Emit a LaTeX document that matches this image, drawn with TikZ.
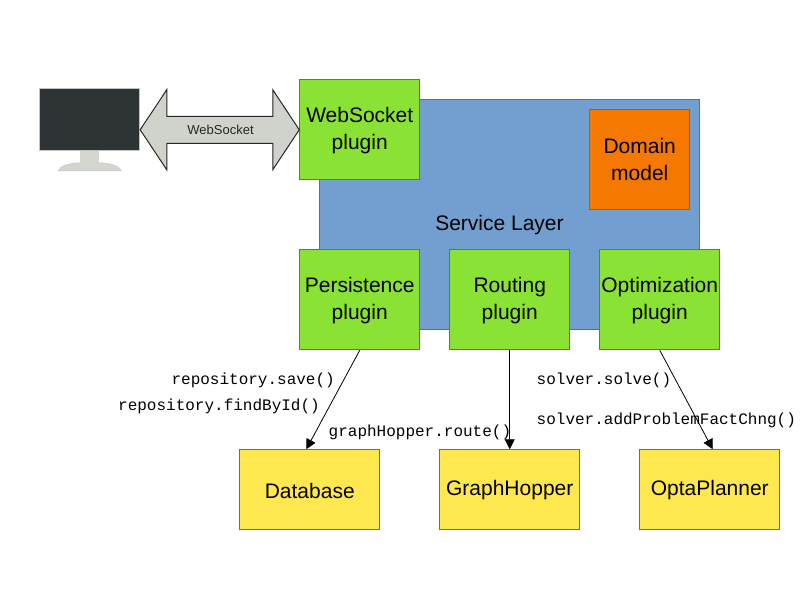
\documentclass[tikz,border=0pt]{standalone}
\usepackage{fontspec}
\setmainfont{Liberation Sans}
\setmonofont{Liberation Mono}
\usetikzlibrary{arrows.meta,calc}
\definecolor{boxline}{HTML}{6E6E64}
\definecolor{plugingreen}{HTML}{8AE234}
\definecolor{extyellow}{HTML}{FFE84F}
\definecolor{layerblue}{HTML}{729FCF}
\definecolor{domorange}{HTML}{F57900}
\definecolor{screendark}{HTML}{2E3436}
\definecolor{standgray}{HTML}{D3D7CF}
\newcommand\lowered[2]{\raisebox{-#1pt}[\height][\depth]{\begin{tabular}{@{}c@{}}#2\end{tabular}}}
\newcommand\loweredline[2]{\raisebox{-#1pt}[\height][\depth]{#2}}
\tikzset{
  x=1pt,y=-1pt,
  basebox/.style={draw=boxline,line width=1pt,inner sep=0pt,align=center,
    font=\fontsize{21}{27}\selectfont},
  plugin/.style={basebox,fill=plugingreen,minimum width=120pt,minimum height=100pt},
  extbox/.style={basebox,fill=extyellow,minimum width=140pt,minimum height=80pt},
  callarrow/.style={draw=black,line width=0.8pt,-{Triangle[length=10pt,width=10pt]}},
  calltext/.style={inner sep=0pt,font=\ttfamily\fontsize{16}{18}\selectfont},
}
\begin{document}
\begin{tikzpicture}
\useasboundingbox (0.25,0.25) rectangle (800.25,600.25);
\fill[white] (0,0) rectangle (801,601);
% service layer
\node[basebox,fill=layerblue,minimum width=380pt,minimum height=230pt] (service) at (510,215) {};
\node[inner sep=0pt,font=\fontsize{21}{27}\selectfont] (servicelabel) at (499.75,225.75) {Service Layer};
\node[basebox,fill=domorange,minimum width=100pt,minimum height=100pt] (domain) at (640,160) {Domain\\model};
% monitor
\fill[standgray,draw=standgray!80!gray,line width=0.5pt] (58.5,171) .. controls (60,166) and (70,163.5) .. (80,163) -- (100,163) .. controls (110,163.5) and (120,166) .. (121.5,171) -- cycle;
\fill[standgray] (80.5,151) rectangle (99.5,164);
\node[draw=standgray!80!gray,line width=0.8pt,fill=screendark,minimum width=100pt,minimum height=62pt,inner sep=0pt] (screen) at (90,120) {};
% plugins
\node[plugin] (ws) at (360,130) {\lowered{1.25}{WebSocket\\plugin}};
\node[plugin] (persist) at (360,300) {\lowered{1.25}{Persistence\\plugin}};
\node[plugin] (routing) at (510,300) {\lowered{1.25}{Routing\\plugin}};
\node[plugin] (optim) at (660,300) {\lowered{1.25}{Optimization\\plugin}};
% externals
\node[extbox] (db) at (310,490) {\loweredline{1.25}{Database}};
\node[extbox] (gh) at (510,490) {GraphHopper};
\node[extbox] (opta) at (710,490) {OptaPlanner};
% double arrow
\draw[draw=black!85,line width=1pt,fill=standgray!95!gray,line join=miter]
  (screen.east |- 0,130) -- (167,90) -- (167,116.5) -- (273,116.5) -- (273,90) -- (ws.west) -- (273,170) -- (273,143.5) -- (167,143.5) -- (167,170) -- cycle;
\node[inner sep=0pt,font=\fontsize{13}{15}\selectfont,text=black!85] (wslabel) at (220.75,130) {WebSocket};
% connectors
\coordinate (dbin) at ($(db.north)+(-3.5,0)$);
\coordinate (optain) at ($(opta.north)+(3,0)$);
\draw[callarrow] (persist.south) -- (dbin);
\draw[callarrow] (routing.south) -- (gh.north);
\draw[callarrow] (optim.south) -- (optain);
% labels
\node[calltext,anchor=base east] (t1) at (335.25,384.25) {repository.save()};
\node[calltext,anchor=base east] (t2) at (320.25,410.25) {repository.findById()};
\node[calltext,anchor=base west] (t3) at (328.75,436.25) {graphHopper.route()};
\node[calltext,anchor=base west] (t4) at (536.75,384.25) {solver.solve()};
\node[calltext,anchor=base west] (t5) at (536.75,424.25) {solver.addProblemFactChng()};
\end{tikzpicture}
\end{document}
